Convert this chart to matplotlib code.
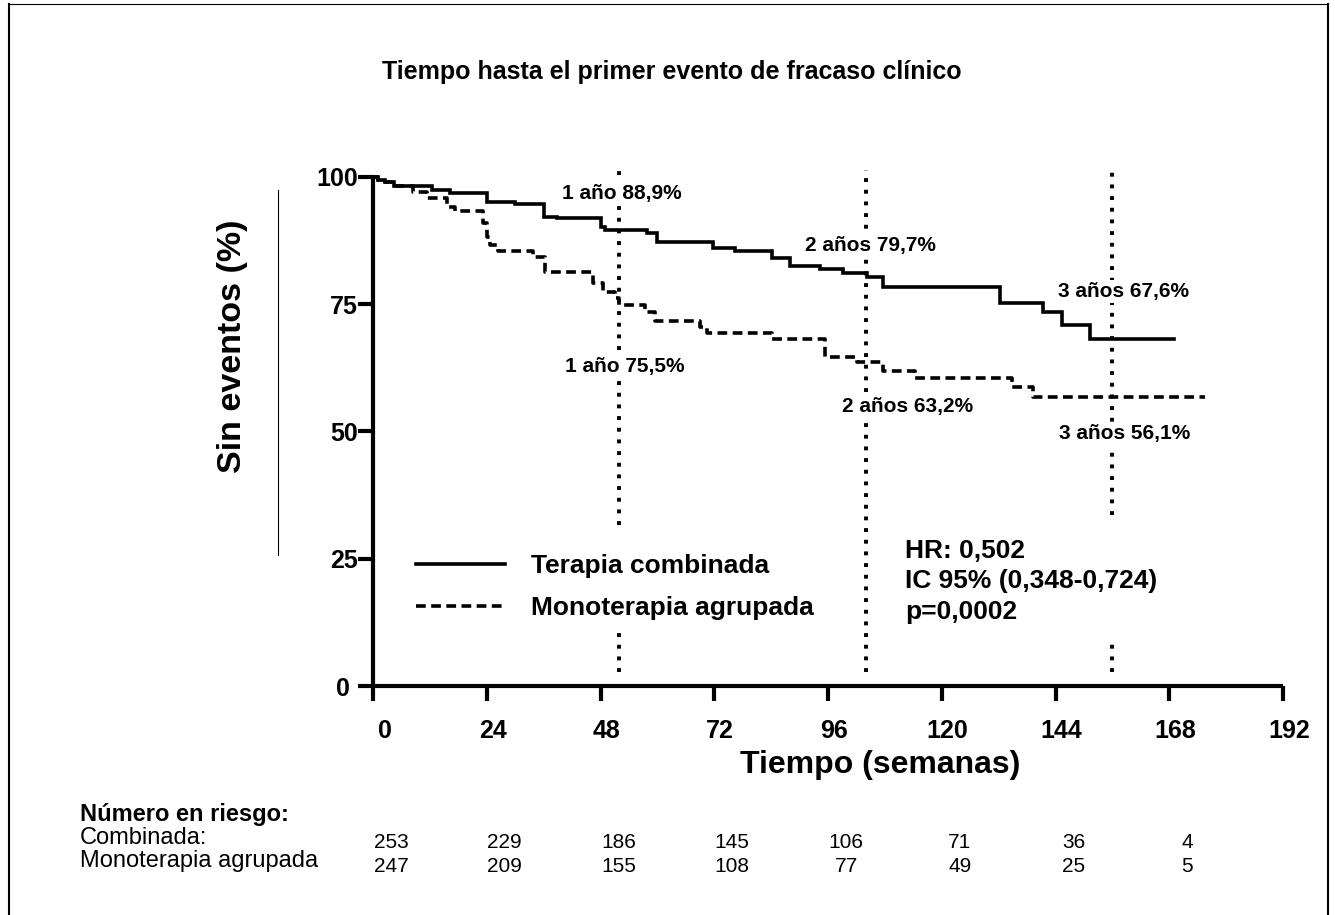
import matplotlib
matplotlib.use('Agg')
import matplotlib.pyplot as plt
from matplotlib.lines import Line2D
from matplotlib.transforms import ScaledTranslation, blended_transform_factory

# ---------------- data ----------------
title = "Tiempo hasta el primer evento de fracaso clínico"
xlabel = "Tiempo (semanas)"
ylabel = "Sin eventos (%)"
series_names = ["Terapia combinada", "Monoterapia agrupada"]

comb_t = [0, 1, 2.5, 4.5, 12.4, 16.2, 24, 30, 36, 38.8, 48, 49, 57.8, 60, 71.8,
          76.4, 84.2, 88, 94.3, 99.2, 104.2, 107.6, 132.3, 141.3, 145.3, 151.3, 169]
comb_s = [100, 99.5, 99, 98.2, 97.4, 96.8, 95.0, 94.6, 92.1, 91.9, 90.2, 89.6, 89.0,
          87.3, 86.0, 85.5, 84.1, 82.5, 81.9, 81.1, 80.4, 78.4, 75.3, 73.5, 70.9, 68.1, 68.1]

mono_t = [0, 1, 2.5, 4.5, 8.4, 11.3, 15.6, 17.3, 23.2, 24.0, 24.7, 26.4, 33.7, 36.3,
          46.4, 48.5, 51, 52, 57.4, 59.5, 69, 70.5, 84.2, 95.4, 102.1, 107.6, 114.3,
          134.8, 139.2, 175.5]
mono_s = [100, 99.5, 99, 98.2, 97.1, 95.9, 94.2, 93.4, 91.0, 88.3, 86.6, 85.5, 84.3,
          81.4, 79.1, 77.5, 76.2, 74.9, 73.5, 71.7, 70.6, 69.3, 68.1, 64.7, 63.7, 61.8,
          60.5, 58.8, 56.8, 56.8]

milestone_weeks = [52, 104, 156]
comb_milestone_labels = ["1 año 88,9%", "2 años 79,7%", "3 años 67,6%"]
mono_milestone_labels = ["1 año 75,5%", "2 años 63,2%", "3 años 56,1%"]

xticks = [0, 24, 48, 72, 96, 120, 144, 168, 192]
yticks = [0, 25, 50, 75, 100]

stats_text = ["HR: 0,502", "IC 95% (0,348-0,724)", "p=0,0002"]

risk_title = "Número en riesgo:"
risk_row_names = ["Combinada:", "Monoterapia agrupada"]
risk_t = [0, 24, 48, 72, 96, 120, 144, 168]
risk_comb = [253, 229, 186, 145, 106, 71, 36, 4]
risk_mono = [247, 209, 155, 108, 77, 49, 25, 5]

# ---------------- style ----------------
BOLD = ['Liberation Sans', 'DejaVu Sans']
NARROW = ['Liberation Sans Narrow', 'Liberation Sans', 'DejaVu Sans']
plt.rcParams['font.family'] = BOLD

W, H, DPI = 1335, 915, 100
fig = plt.figure(figsize=(W / DPI, H / DPI), dpi=DPI)
fig.patch.set_facecolor('white')

def px2fx(x):
    return x / W

def px2fy(y):
    return 1 - y / H

ax = fig.add_axes([px2fx(373), px2fy(686), (1283 - 373) / W, (686 - 177) / H])
ax.set_xlim(0, 192)
ax.set_ylim(0, 100)

for s in ['top', 'right']:
    ax.spines[s].set_visible(False)
for s in ['left', 'bottom']:
    ax.spines[s].set_linewidth(3.0)
    ax.spines[s].set_capstyle('butt')

ax.set_xticks(xticks)
ax.set_yticks(yticks)
ax.tick_params(axis='both', direction='out', length=11, width=3.0,
               labelsize=18, color='black')
ax.tick_params(axis='x', pad=13)
ax.tick_params(axis='y', pad=0)
for lab in ax.get_xticklabels() + ax.get_yticklabels():
    lab.set_fontweight('bold')

# shift x tick labels slightly right as in the reference
for i, lab in enumerate(ax.get_xticklabels()):
    dx = 12 if i == 0 else 6
    lab.set_transform(lab.get_transform() + ScaledTranslation(dx / DPI, 0, fig.dpi_scale_trans))
ylabs = ax.get_yticklabels()
ylabs[0].set_transform(ylabs[0].get_transform() + ScaledTranslation(-8 / DPI, 0, fig.dpi_scale_trans))

# milestone dotted lines
dot_style = dict(color='black', lw=2.8, linestyle=(0, (1, 2)), dash_capstyle='butt', zorder=1)
segments = {52: [(31.6, 101.4), (2.75, 10.6)],
            104: [(2.75, 101.4)],
            156: [(33.6, 101.4), (2.75, 9.0)]}
for wk in milestone_weeks:
    for lo, hi in segments[wk]:
        ax.plot([wk, wk], [lo, hi], clip_on=False, **dot_style)

# survival curves
l1, = ax.step(comb_t, comb_s, where='post', color='black', lw=2.6,
              solid_joinstyle='miter', clip_on=False, zorder=3, label=series_names[0])
l2, = ax.step(mono_t, mono_s, where='post', color='black', lw=2.6,
              linestyle=(0, (2.7, 1.5)), clip_on=False, zorder=3, label=series_names[1])

# milestone labels
box = dict(facecolor='white', edgecolor='none', pad=1.5)
comb_lab_pos = [(52.5, 96.8), (104.9, 86.5), (158.4, 77.5)]
mono_lab_pos = [(53.2, 62.8), (112.7, 54.9), (158.6, 49.6)]
for (x, y), t in zip(comb_lab_pos, comb_milestone_labels):
    ax.text(x, y, t, ha='center', va='center', fontsize=15, fontweight='bold', bbox=box, zorder=4)
for (x, y), t in zip(mono_lab_pos, mono_milestone_labels):
    ax.text(x, y, t, ha='center', va='center', fontsize=15, fontweight='bold', bbox=box, zorder=4)

# legend
leg = ax.legend(handles=[l1, l2], loc='center left', bbox_to_anchor=(0.036, 0.194),
                frameon=True, fontsize=19, handlelength=3.35, handletextpad=1.0,
                labelspacing=0.7, borderpad=0.4, borderaxespad=0)
leg.get_frame().set_facecolor('white')
leg.get_frame().set_edgecolor('none')
leg.get_frame().set_alpha(1)
leg.set_zorder(5)
for t in leg.get_texts():
    t.set_fontweight('bold')

# stats text
ax.text(112.2, 28.8, "\n".join(stats_text), ha='left', va='top', fontsize=19,
        fontweight='bold', linespacing=1.32, zorder=4)

# axis labels & title
fig.text(px2fx(880), px2fy(765), xlabel, ha='center', va='center', fontsize=23, fontweight='bold')
fig.text(px2fx(232), px2fy(346), ylabel, ha='center', va='center', fontsize=24.5,
         fontweight='bold', rotation=90)
fig.text(px2fx(672), px2fy(72), title, ha='center', va='center', fontsize=18, fontweight='bold')

# thin vertical line next to y label
fig.add_artist(Line2D([px2fx(278), px2fx(278)], [px2fy(190), px2fy(555)], color='black', lw=0.8))

# number at risk table
fig.text(px2fx(80), px2fy(815), risk_title, ha='left', va='center', fontsize=17,
         fontweight='bold', family=NARROW)
fig.text(px2fx(80), px2fy(838), risk_row_names[0], ha='left', va='center', fontsize=17, family=NARROW)
fig.text(px2fx(80), px2fy(861), risk_row_names[1], ha='left', va='center', fontsize=17, family=NARROW)
trans = blended_transform_factory(ax.transData, fig.transFigure) + \
    ScaledTranslation(18 / DPI, 0, fig.dpi_scale_trans)
for t, c, m in zip(risk_t, risk_comb, risk_mono):
    fig.text(t, px2fy(843), str(c), ha='center', va='center', fontsize=15, family=NARROW, transform=trans)
    fig.text(t, px2fy(867), str(m), ha='center', va='center', fontsize=15, family=NARROW, transform=trans)

# outer frame
fig.add_artist(Line2D([px2fx(8.5), px2fx(8.5)], [px2fy(4), 0], color='black', lw=1.5))
fig.add_artist(Line2D([px2fx(1327.5), px2fx(1327.5)], [px2fy(4), 0], color='black', lw=1.5))
fig.add_artist(Line2D([px2fx(8), px2fx(1328)], [px2fy(3.5), px2fy(3.5)], color='black', lw=0.8))

fig.savefig('out.png', dpi=DPI, facecolor='white')
